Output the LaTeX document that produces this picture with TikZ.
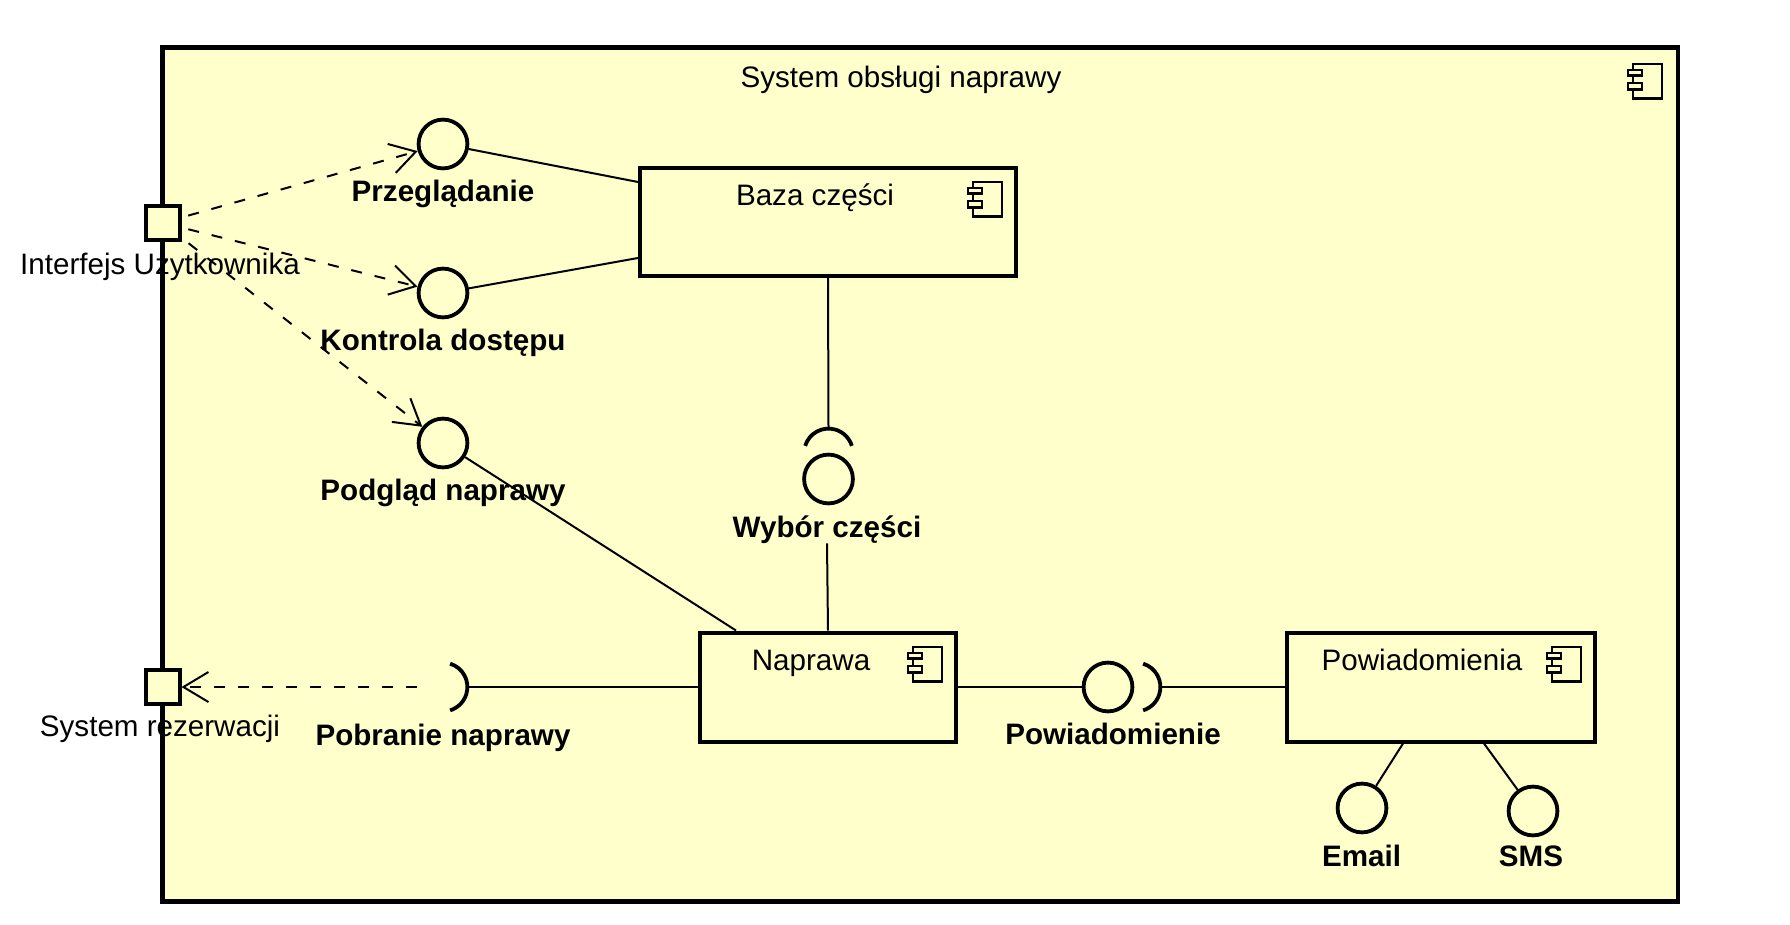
\documentclass[tikz,border=0pt]{standalone}
\usepackage{fontspec}
\setmainfont{Liberation Sans}
\usetikzlibrary{arrows.meta,calc}
\definecolor{ybg}{HTML}{FFFFCC}
\begin{document}
\begin{tikzpicture}[x=1pt,y=-1pt,
  every node/.style={font=\fontsize{29.6}{34}\selectfont},
  frame/.style={draw, line width=4.5pt, fill=ybg, inner sep=0pt},
  comp/.style={draw, line width=4pt, fill=ybg, inner sep=0pt},
  port/.style={draw, line width=4pt, fill=ybg, inner sep=0pt, minimum size=34pt},
  iface/.style={circle, draw, line width=3.8pt, fill=ybg, inner sep=0pt, minimum size=48.8pt},
  ghost/.style={circle, inner sep=0pt, outer sep=0pt, minimum size=52pt},
  sock/.style={line width=3.8pt},
  conn/.style={line width=2pt},
  dep/.style={line width=2pt, dash pattern=on 11pt off 13pt, -{Straight Barb[length=25pt,width=30pt]}},
  lbl/.style={font=\fontsize{29.6}{34}\selectfont\bfseries, anchor=base, inner sep=0pt},
  txt/.style={anchor=base, inner sep=0pt},
  compicon/.pic={
    \draw[line width=2.2pt, fill=ybg] (-30,1) rectangle (-1,35.5);
    \draw[line width=2.2pt, fill=ybg] (-35,7) rectangle (-21,12.5);
    \draw[line width=2.2pt, fill=ybg] (-35,20) rectangle (-21,26.5);
  }]
\useasboundingbox (0,0) rectangle (1790,925);
\fill[white] (0,0) rectangle (1790,925);

% system frame
\node[frame, minimum width=1515.5pt, minimum height=854pt] (sys) at (920.25,474.5) {};
\node[txt] (systitle) at (901,88) {System obsługi naprawy};
\pic (sysicon) at (1663,63) {compicon};

% components
\node[comp, minimum width=376pt, minimum height=108pt] (baza) at (828,222) {};
\node[txt] (bazat) at (815,206) {Baza części};
\pic (bazaicon) at (1002.7,181) {compicon};

\node[comp, minimum width=256pt, minimum height=109pt] (napr) at (828,687) {};
\node[txt] (naprt) at (811,670.5) {Naprawa};
\pic (napricon) at (943,646) {compicon};

\node[comp, minimum width=308pt, minimum height=109pt] (powiad) at (1441,687) {};
\node[txt] (powiadt) at (1422,670.5) {Powiadomienia};
\pic (powiadicon) at (1582,646) {compicon};

% interfaces (provided)
\node[iface] (przeg) at (443,144) {};
\node[lbl] (przegl) at (443,201.5) {Przeglądanie};
\node[iface] (kontr) at (443,293) {};
\node[lbl] (kontrl) at (443,350.5) {Kontrola dostępu};
\node[iface] (podg) at (443,443) {};
\node[lbl] (podgl) at (443,500.5) {Podgląd naprawy};
\node[iface] (wyb) at (828.5,479) {};
\node[lbl] (wybl) at (827,537) {Wybór części};
\node[iface] (powb) at (1108,687) {};
\node[lbl] (powbl) at (1113,744.5) {Powiadomienie};
\node[iface] (email) at (1362,808) {};
\node[lbl] (emaill) at (1361.5,866.5) {Email};
\node[iface] (sms) at (1533,811) {};
\node[lbl] (smsl) at (1531,866.5) {SMS};

% required interfaces (sockets)
\coordinate (wybsock) at (828.5,453);
\draw[sock] (wybsock) ++(197:24.4) arc[start angle=197, end angle=343, radius=24.4];
\coordinate (wybsocktop) at (828.5,428.6);

\coordinate (pobrsock) at (443,687);
\node[ghost] (pobr) at (443,687) {};
\draw[sock] (pobrsock) ++(-73:24.4) arc[start angle=-73, end angle=73, radius=24.4];
\coordinate (pobrtip) at (467.4,687);
\node[lbl] (pobrl) at (443,745) {Pobranie naprawy};

\coordinate (powsock) at (1136,687);
\draw[sock] (powsock) ++(-73:24.4) arc[start angle=-73, end angle=73, radius=24.4];
\coordinate (powsocktip) at (1160.4,687);

% ports
\node[port] (ui) at (162.5,222.8) {};
\node[txt] (uil) at (160,274.5) {Interfejs Użytkownika};
\node[port] (rez) at (162.5,687) {};
\node[txt] (rezl) at (160,736.5) {System rezerwacji};

% solid connectors
\draw[conn] (przeg) -- ($(baza.north west)+(0,16)$);
\draw[conn] (kontr) -- ($(baza.south west)+(0,-20)$);
\draw[conn] (baza.south) -- (wybsocktop);
\draw[conn] (napr.north) -- (wybl.south);
\draw[conn] (podg) -- ($(napr.north west)+(38,0)$);
\draw[conn] (pobrtip) -- (napr.west);
\draw[conn] (napr.east) -- (powb.west);
\draw[conn] (powsocktip) -- (powiad.west);
\draw[conn] ($(powiad.south)+(-38,0)$) -- (email);
\draw[conn] ($(powiad.south)+(43,0)$) -- (sms);

% dependencies
\draw[dep, shorten <=7pt] (ui) -- (przeg);
\draw[dep, shorten <=7pt] (ui) -- (kontr);
\draw[dep, shorten <=9pt] (ui) -- (podg);
\draw[dep] (pobr) -- (rez);
\end{tikzpicture}
\end{document}
